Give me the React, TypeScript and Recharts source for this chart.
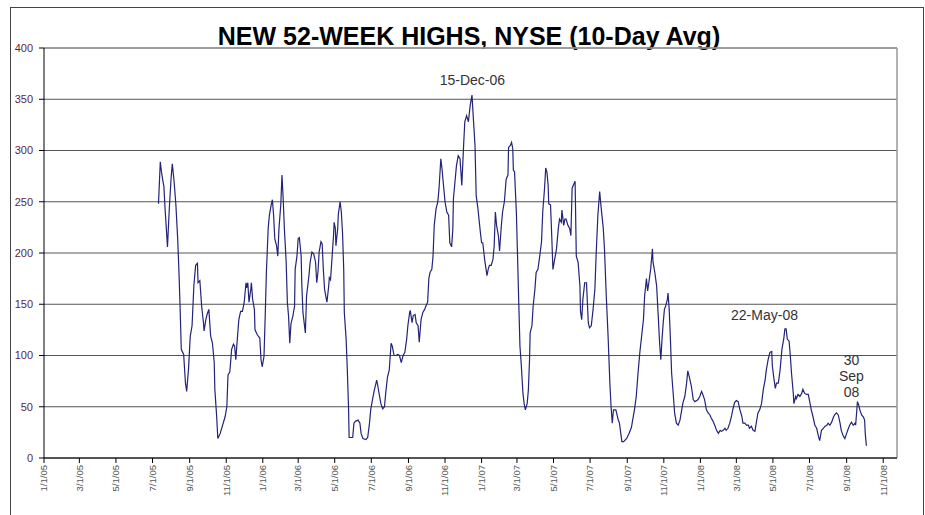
import React from 'react';
import { LineChart, Line, XAxis, YAxis, CartesianGrid, ReferenceLine, ReferenceDot } from 'recharts';

const chartTitle = 'NEW 52-WEEK HIGHS, NYSE (10-Day Avg)';

const dates = [
  '2005-07-11','2005-07-14','2005-07-16','2005-07-19','2005-07-20','2005-07-22','2005-07-26','2005-07-29','2005-08-01','2005-08-03',
  '2005-08-06','2005-08-09','2005-08-12','2005-08-14','2005-08-16','2005-08-18','2005-08-22','2005-08-25','2005-08-27','2005-08-30',
  '2005-09-02','2005-09-05','2005-09-08','2005-09-11','2005-09-14','2005-09-15','2005-09-18','2005-09-21','2005-09-24','2005-09-25',
  '2005-09-28','2005-09-30','2005-10-03','2005-10-06','2005-10-09','2005-10-12','2005-10-13','2005-10-16','2005-10-18','2005-10-22',
  '2005-10-26','2005-10-30','2005-11-02','2005-11-04','2005-11-07','2005-11-10','2005-11-13','2005-11-15','2005-11-17','2005-11-19',
  '2005-11-22','2005-11-25','2005-11-28','2005-12-01','2005-12-04','2005-12-05','2005-12-07','2005-12-09','2005-12-12','2005-12-13',
  '2005-12-15','2005-12-18','2005-12-19','2005-12-23','2005-12-27','2005-12-29','2005-12-31','2006-01-03','2006-01-05','2006-01-07',
  '2006-01-10','2006-01-12','2006-01-15','2006-01-17','2006-01-19','2006-01-21','2006-01-24','2006-01-26','2006-01-28','2006-01-31',
  '2006-02-02','2006-02-04','2006-02-06','2006-02-09','2006-02-11','2006-02-13','2006-02-15','2006-02-17','2006-02-20','2006-02-23',
  '2006-02-24','2006-02-27','2006-03-01','2006-03-03','2006-03-06','2006-03-07','2006-03-09','2006-03-13','2006-03-15','2006-03-19',
  '2006-03-21','2006-03-24','2006-03-27','2006-03-30','2006-04-01','2006-04-03','2006-04-05','2006-04-08','2006-04-10','2006-04-12',
  '2006-04-14','2006-04-17','2006-04-18','2006-04-21','2006-04-22','2006-04-24','2006-04-26','2006-04-29','2006-04-30','2006-05-02',
  '2006-05-03','2006-05-06','2006-05-07','2006-05-10','2006-05-12','2006-05-14','2006-05-16','2006-05-17','2006-05-20','2006-05-22',
  '2006-05-24','2006-05-25','2006-05-28','2006-05-31','2006-06-02','2006-06-05','2006-06-09','2006-06-12','2006-06-14','2006-06-17',
  '2006-06-22','2006-06-25','2006-06-28','2006-06-30','2006-07-03','2006-07-06','2006-07-10','2006-07-12','2006-07-14','2006-07-17',
  '2006-07-20','2006-07-23','2006-07-25','2006-07-28','2006-07-31','2006-08-03','2006-08-05','2006-08-08','2006-08-11','2006-08-14',
  '2006-08-17','2006-08-20','2006-08-23','2006-08-26','2006-08-29','2006-08-31','2006-09-03','2006-09-04','2006-09-07','2006-09-09',
  '2006-09-12','2006-09-14','2006-09-17','2006-09-19','2006-09-22','2006-09-25','2006-09-28','2006-09-30','2006-10-03','2006-10-05',
  '2006-10-07','2006-10-10','2006-10-12','2006-10-14','2006-10-17','2006-10-20','2006-10-22','2006-10-25','2006-10-27','2006-10-29',
  '2006-11-01','2006-11-04','2006-11-07','2006-11-09','2006-11-12','2006-11-14','2006-11-15','2006-11-18','2006-11-20','2006-11-23',
  '2006-11-26','2006-11-29','2006-12-02','2006-12-04','2006-12-07','2006-12-10','2006-12-13','2006-12-16','2006-12-18','2006-12-21',
  '2006-12-23','2006-12-26','2006-12-27','2006-12-30','2007-01-01','2007-01-03','2007-01-06','2007-01-10','2007-01-12','2007-01-14',
  '2007-01-17','2007-01-20','2007-01-22','2007-01-24','2007-01-26','2007-01-29','2007-01-31','2007-02-03','2007-02-05','2007-02-08',
  '2007-02-11','2007-02-14','2007-02-15','2007-02-18','2007-02-20','2007-02-22','2007-02-23','2007-02-25','2007-02-28','2007-03-02',
  '2007-03-04','2007-03-06','2007-03-08','2007-03-11','2007-03-13','2007-03-15','2007-03-18','2007-03-20','2007-03-22','2007-03-23',
  '2007-03-26','2007-03-28','2007-03-31','2007-04-02','2007-04-05','2007-04-08','2007-04-11','2007-04-13','2007-04-16','2007-04-18',
  '2007-04-20','2007-04-22','2007-04-23','2007-04-26','2007-04-28','2007-04-30','2007-05-03','2007-05-06','2007-05-09','2007-05-11',
  '2007-05-14','2007-05-15','2007-05-18','2007-05-20','2007-05-22','2007-05-25','2007-05-28','2007-05-30','2007-06-01','2007-06-03',
  '2007-06-06','2007-06-08','2007-06-11','2007-06-14','2007-06-15','2007-06-17','2007-06-19','2007-06-22','2007-06-25','2007-06-28',
  '2007-06-30','2007-07-03','2007-07-06','2007-07-09','2007-07-11','2007-07-14','2007-07-17','2007-07-19','2007-07-23','2007-07-25',
  '2007-07-28','2007-07-31','2007-08-03','2007-08-05','2007-08-07','2007-08-09','2007-08-13','2007-08-17','2007-08-19','2007-08-23',
  '2007-08-26','2007-08-31','2007-09-04','2007-09-08','2007-09-10','2007-09-13','2007-09-16','2007-09-19','2007-09-22','2007-09-25',
  '2007-09-28','2007-09-30','2007-10-03','2007-10-05','2007-10-07','2007-10-10','2007-10-13','2007-10-14','2007-10-17','2007-10-20',
  '2007-10-23','2007-10-25','2007-10-27','2007-10-29','2007-10-31','2007-11-02','2007-11-04','2007-11-07','2007-11-08','2007-11-10',
  '2007-11-12','2007-11-14','2007-11-17','2007-11-19','2007-11-22','2007-11-25','2007-11-28','2007-11-30','2007-12-03','2007-12-06',
  '2007-12-09','2007-12-11','2007-12-14','2007-12-17','2007-12-20','2007-12-23','2007-12-26','2007-12-28','2007-12-31','2008-01-03',
  '2008-01-05','2008-01-08','2008-01-11','2008-01-14','2008-01-17','2008-01-19','2008-01-22','2008-01-25','2008-01-28','2008-01-31',
  '2008-02-03','2008-02-05','2008-02-08','2008-02-11','2008-02-13','2008-02-16','2008-02-19','2008-02-22','2008-02-24','2008-02-27',
  '2008-03-01','2008-03-04','2008-03-07','2008-03-10','2008-03-12','2008-03-15','2008-03-18','2008-03-21','2008-03-23','2008-03-26',
  '2008-03-29','2008-04-01','2008-04-04','2008-04-06','2008-04-09','2008-04-12','2008-04-15','2008-04-18','2008-04-20','2008-04-23',
  '2008-04-26','2008-04-29','2008-04-30','2008-05-03','2008-05-05','2008-05-07','2008-05-10','2008-05-13','2008-05-16','2008-05-19',
  '2008-05-21','2008-05-23','2008-05-25','2008-05-28','2008-05-30','2008-06-01','2008-06-04','2008-06-05','2008-06-08','2008-06-09',
  '2008-06-12','2008-06-15','2008-06-18','2008-06-20','2008-06-23','2008-06-26','2008-06-29','2008-07-02','2008-07-04','2008-07-07',
  '2008-07-10','2008-07-13','2008-07-16','2008-07-18','2008-07-21','2008-07-24','2008-07-27','2008-07-30','2008-08-01','2008-08-04',
  '2008-08-07','2008-08-10','2008-08-12','2008-08-15','2008-08-18','2008-08-21','2008-08-23','2008-08-26','2008-08-29','2008-09-01',
  '2008-09-04','2008-09-06','2008-09-09','2008-09-12','2008-09-15','2008-09-16','2008-09-18','2008-09-19','2008-09-21','2008-09-23',
  '2008-09-26','2008-09-29','2008-10-01','2008-10-02','2008-10-04',
];

const newHighs = [
  248, 289, 279, 268, 265, 243, 206, 243, 273, 287,
  270, 247, 214, 184, 148, 106, 101, 73, 65, 86,
  119, 129, 168, 188, 190, 171, 173, 148, 132, 124,
  135, 140, 145, 119, 112, 93, 67, 41, 19, 24,
  32, 40, 50, 81, 84, 106, 111, 109, 96, 112,
  135, 143, 143, 152, 171, 166, 171, 152, 165, 171,
  155, 145, 125, 120, 117, 96, 89, 99, 138, 181,
  224, 237, 247, 252, 237, 214, 207, 197, 224, 247,
  276, 253, 224, 191, 152, 138, 112, 131, 138, 148,
  184, 197, 214, 215, 197, 171, 142, 122, 158, 178,
  191, 201, 199, 191, 171, 181, 201, 211, 209, 184,
  165, 155, 152, 168, 176, 174, 191, 217, 230, 224,
  207, 224, 238, 250, 240, 220, 184, 142, 116, 86,
  50, 20, 20, 20, 34, 36, 37, 34, 24, 19,
  18, 20, 34, 47, 57, 66, 76, 70, 63, 53,
  48, 50, 63, 79, 86, 112, 109, 100, 100, 101,
  100, 93, 100, 103, 116, 129, 142, 144, 132, 139,
  140, 132, 129, 113, 135, 142, 145, 148, 152, 175,
  181, 184, 197, 227, 243, 250, 263, 292, 282, 269,
  250, 240, 237, 210, 206, 223, 253, 272, 285, 295,
  292, 266, 305, 328, 334, 328, 344, 354, 334, 305,
  256, 243, 237, 220, 210, 210, 194, 178, 184, 188,
  188, 194, 207, 240, 227, 217, 202, 227, 240, 250,
  272, 276, 303, 305, 308, 302, 281, 279, 240, 197,
  152, 109, 93, 63, 53, 47, 53, 66, 96, 122,
  129, 148, 165, 181, 184, 197, 211, 240, 263, 283,
  279, 266, 248, 247, 217, 184, 194, 204, 224, 233,
  230, 242, 227, 233, 233, 227, 224, 217, 263, 266,
  270, 197, 191, 168, 143, 135, 155, 171, 171, 132,
  127, 129, 145, 165, 197, 237, 260, 247, 224, 204,
  158, 119, 73, 50, 34, 47, 47, 37, 34, 16,
  16, 19, 24, 30, 37, 47, 60, 83, 103, 119,
  135, 158, 175, 163, 171, 184, 204, 191, 181, 168,
  135, 112, 96, 116, 132, 145, 148, 155, 161, 145,
  116, 83, 60, 44, 34, 32, 37, 44, 54, 60,
  73, 85, 78, 70, 57, 55, 56, 57, 60, 65,
  62, 57, 47, 44, 42, 39, 36, 32, 27, 24,
  27, 26, 27, 29, 27, 29, 34, 41, 47, 54,
  56, 55, 47, 41, 34, 34, 32, 32, 29, 31,
  27, 26, 37, 44, 47, 53, 67, 76, 86, 96,
  103, 104, 90, 76, 68, 73, 73, 86, 106, 116,
  126, 126, 116, 114, 100, 83, 63, 53, 60, 58,
  62, 60, 63, 67, 63, 62, 62, 53, 47, 40,
  32, 29, 21, 17, 27, 29, 31, 32, 34, 32,
  35, 40, 42, 44, 42, 34, 27, 22, 19, 24,
  29, 32, 35, 32, 34, 32, 47, 55, 52, 47,
  42, 40, 37, 24, 12,
];

const yTicks = [0, 50, 100, 150, 200, 250, 300, 350, 400];
const xTickDates = [
  '2005-01-01','2005-03-01','2005-05-01','2005-07-01','2005-09-01','2005-11-01',
  '2006-01-01','2006-03-01','2006-05-01','2006-07-01','2006-09-01','2006-11-01',
  '2007-01-01','2007-03-01','2007-05-01','2007-07-01','2007-09-01','2007-11-01',
  '2008-01-01','2008-03-01','2008-05-01','2008-07-01','2008-09-01','2008-11-01',
];
const axisRange = ['2005-01-01', '2008-11-24'];

const annotationDates = ['2006-12-15', '2008-05-22', '2008-09-19'];
const annotationValues = [354, 126, 55];
const annotationTexts = [['15-Dec-06'], ['22-May-08'], ['30', 'Sep', '08']];

const FONT = 'Arial, "Liberation Sans", sans-serif';

const ts = (s: string) => {
  const [y, m, d] = s.split('-').map(Number);
  return Date.UTC(y, m - 1, d);
};

const data = dates.map((d, i) => ({ t: ts(d), v: newHighs[i] }));

function DateTick(props: any) {
  const { x, y, payload } = props;
  const d = new Date(payload.value);
  const label = `${d.getUTCMonth() + 1}/${d.getUTCDate()}/${String(d.getUTCFullYear()).slice(2)}`;
  return (
    <text
      x={x}
      y={y}
      transform={`rotate(-90 ${x} ${y})`}
      textAnchor="end"
      dy="0.35em"
      fontSize={9.5}
      fontFamily={FONT}
      fill="#555"
    >
      {label}
    </text>
  );
}

const labelShift = [
  { dx: 1, gap: 10 },
  { dx: -21, gap: 9 },
  { dx: -6, gap: 5 },
];

function makeAnnotation(lines: string[], dx: number, gap: number) {
  return (props: any) => {
    const vb = props.viewBox || {};
    const cx = (vb.x ?? 0) + (vb.width ?? 0) / 2 + dx;
    const cy = (vb.y ?? 0) + (vb.height ?? 0) / 2;
    return (
      <text textAnchor="middle" fontSize={14} fontFamily={FONT} fill="#333">
        {lines.map((l, i) => (
          <tspan key={i} x={cx} y={cy - gap - (lines.length - 1 - i) * 16}>
            {l}
          </tspan>
        ))}
      </text>
    );
  };
}

export default function App() {
  const [x0, x1] = axisRange.map(ts);
  return (
    <div
      style={{
        position: 'absolute',
        left: 0,
        top: 0,
        width: 925,
        height: 515,
        background: '#fff',
        overflow: 'hidden',
        fontFamily: FONT,
      }}
    >
      <div
        style={{
          position: 'absolute',
          left: 10,
          top: 7,
          width: 914,
          height: 520,
          border: '1px solid #444',
          boxSizing: 'border-box',
        }}
      />
      <div
        style={{
          position: 'absolute',
          left: 469,
          top: 24,
          transform: 'translateX(-50%)',
          whiteSpace: 'nowrap',
          fontSize: 25,
          lineHeight: '25px',
          fontWeight: 'bold',
          color: '#000',
        }}
      >
        {chartTitle}
      </div>
      <div style={{ position: 'absolute', left: 0, top: 0 }}>
        <LineChart
          width={925}
          height={515}
          data={data}
          margin={{ top: 48, right: 28, left: 10, bottom: 7 }}
          style={{ fontFamily: FONT }}
        >
          <CartesianGrid vertical={false} stroke="#555" strokeWidth={1} />
          <ReferenceLine y={400} stroke="#999" strokeWidth={1.5} />
          <ReferenceLine x={x1} stroke="#999" strokeWidth={1.5} />
          <XAxis
            dataKey="t"
            type="number"
            domain={[x0, x1]}
            ticks={xTickDates.map(ts)}
            interval={0}
            tick={<DateTick />}
            tickSize={5}
            height={50}
            axisLine={{ stroke: '#000' }}
            tickLine={{ stroke: '#000' }}
            allowDataOverflow
          />
          <YAxis
            domain={[0, 400]}
            ticks={yTicks}
            interval={0}
            width={34}
            tickSize={5}
            tickMargin={6}
            axisLine={{ stroke: '#000' }}
            tickLine={{ stroke: '#000' }}
            tick={{ fill: '#5a1f45', fontSize: 11, fontFamily: FONT }}
          />
          <Line
            type="linear"
            dataKey="v"
            stroke="#23237a"
            strokeWidth={1.2}
            dot={false}
            isAnimationActive={false}
          />
          {annotationDates.map((d, i) => (
            <ReferenceDot
              key={d}
              x={ts(d)}
              y={annotationValues[i]}
              r={1}
              fill="none"
              stroke="none"
              label={makeAnnotation(annotationTexts[i], labelShift[i].dx, labelShift[i].gap)}
            />
          ))}
        </LineChart>
      </div>
    </div>
  );
}
